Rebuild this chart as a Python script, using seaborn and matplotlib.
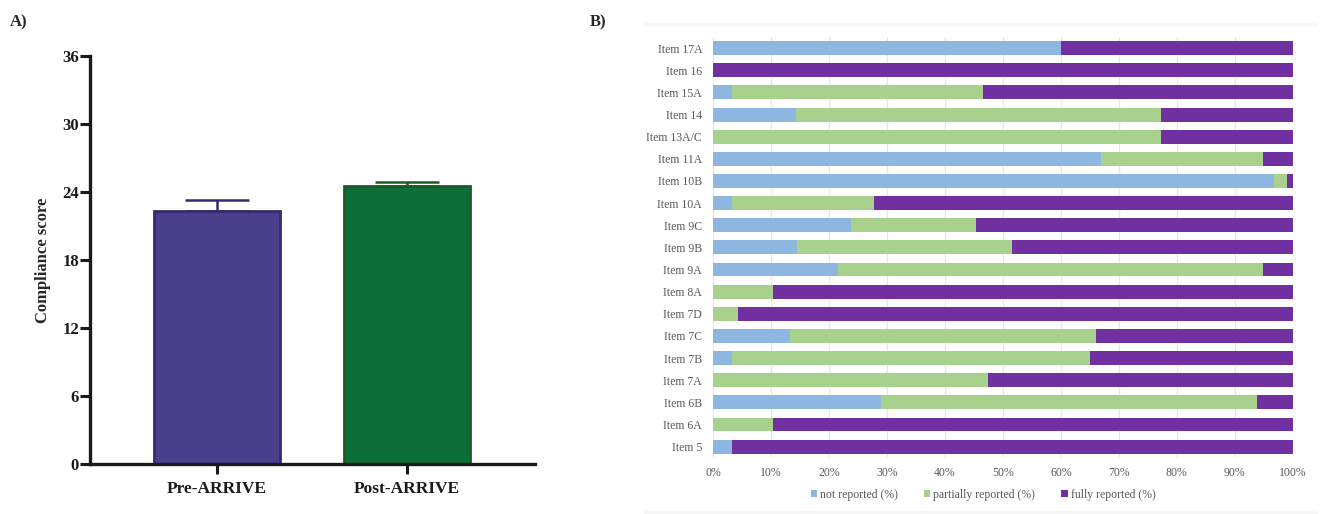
import numpy as np
import pandas as pd
import matplotlib
matplotlib.use("Agg")
import matplotlib.pyplot as plt
from matplotlib.lines import Line2D
from matplotlib.patches import Patch
import seaborn as sns

# ---- Panel A: mean compliance score with SEM ----
groups = ["Pre-ARRIVE", "Post-ARRIVE"]
mean_score = [22.3, 24.5]
sem_score = [1.0, 0.4]
group_fill = ["#4A3F8B", "#0E6E3A"]
group_edge = ["#352A72", "#1F5A26"]
score_ticks = [0, 6, 12, 18, 24, 30, 36]

# ---- Panel B: reporting of individual checklist items (%) ----
items = ["Item 17A", "Item 16", "Item 15A", "Item 14", "Item 13A/C", "Item 11A",
         "Item 10B", "Item 10A", "Item 9C", "Item 9B", "Item 9A", "Item 8A",
         "Item 7D", "Item 7C", "Item 7B", "Item 7A", "Item 6B", "Item 6A", "Item 5"]
not_reported = [60.0, 0.0, 3.2, 14.3, 0.0, 67.0, 96.8, 3.2, 23.8, 14.4, 21.6,
                0.0, 0.0, 13.3, 3.2, 0.0, 28.9, 0.0, 3.2]
partially_reported = [0.0, 0.0, 43.3, 63.0, 77.3, 27.9, 2.2, 24.6, 21.5, 37.1, 73.3,
                      10.3, 4.2, 52.7, 61.8, 47.4, 64.9, 10.3, 0.0]
fully_reported = [40.0, 100.0, 53.5, 22.7, 22.7, 5.1, 1.0, 72.2, 54.7, 48.5, 5.1,
                  89.7, 95.8, 34.0, 35.0, 52.6, 6.2, 89.7, 96.8]
series_names = ["not reported (%)", "partially reported (%)", "fully reported (%)"]
series_colors = ["#8DB7E0", "#A9D18E", "#7030A0"]
pct_ticks = list(range(0, 101, 10))

sns.set_theme(style="white")
plt.rcParams["font.family"] = ["Liberation Serif", "DejaVu Serif"]

W, H = 1321, 514
fig = plt.figure(figsize=(W / 100, H / 100), dpi=100)

# ------------------------------------------------------------------ panel A
axA = fig.add_axes([90 / W, 1 - 464 / H, (535 - 90) / W, (464 - 56) / H])
dfA = pd.DataFrame({"group": groups, "score": mean_score})
sns.barplot(data=dfA, x="group", y="score", hue="group", palette=group_fill,
            legend=False, width=0.663, ax=axA, errorbar=None, saturation=1)
for patch, ec in zip(axA.patches, group_edge):
    patch.set_edgecolor(ec)
    patch.set_linewidth(2.0)
for i, (m, s, ec) in enumerate(zip(mean_score, sem_score, group_edge)):
    axA.errorbar(i, m, yerr=[[0], [s]], fmt="none", ecolor=ec,
                 elinewidth=1.8, capsize=23, capthick=1.8, zorder=1)
axA.set_xlim(-0.668, 1.674)
axA.set_ylim(0, 36)
axA.set_yticks(score_ticks)
axA.set_xlabel("")
axA.set_ylabel("Compliance score", fontsize=12, fontweight="bold", labelpad=8)
for side in ("top", "right"):
    axA.spines[side].set_visible(False)
for side in ("left", "bottom"):
    axA.spines[side].set_linewidth(2.4)
    axA.spines[side].set_color("#1a1a1a")
axA.tick_params(axis="both", direction="out", length=7, width=2.2,
                color="#1a1a1a", left=True, bottom=True)
axA.tick_params(axis="y", labelsize=12, pad=1)
axA.tick_params(axis="x", labelsize=12.5, pad=5)
for lab in axA.get_xticklabels() + axA.get_yticklabels():
    lab.set_fontweight("bold")
    lab.set_color("#1a1a1a")

fig.text(10 / W, 1 - 22 / H, "A)", fontsize=12, fontweight="bold",
         va="center", ha="left")

# ------------------------------------------------------------------ panel B
axB = fig.add_axes([713.3 / W, 1 - 457.7 / H, (1292.7 - 713.3) / W,
                    (457.7 - 36.6) / H])
dfB = pd.DataFrame({"item": items,
                    "not": not_reported,
                    "partial": partially_reported,
                    "full": fully_reported})
dfB["cum_partial"] = dfB["not"] + dfB["partial"]
dfB["cum_full"] = dfB["cum_partial"] + dfB["full"]

# stacked bars: draw cumulative totals from the back to the front
for col, color in zip(["cum_full", "cum_partial", "not"], series_colors[::-1]):
    sns.barplot(data=dfB, x=col, y="item", color=color, orient="h",
                width=0.63, ax=axB, errorbar=None, saturation=1,
                linewidth=0)
axB.set_xlim(0, 100)
axB.set_ylim(len(items) - 0.5, -0.52)
axB.set_xticks(pct_ticks)
axB.set_xticklabels([f"{t}%" for t in pct_ticks])
axB.set_xlabel("")
axB.set_ylabel("")
axB.set_axisbelow(True)
axB.grid(axis="x", color="#E6E6E6", linewidth=0.9)
axB.grid(axis="y", visible=False)
for side in axB.spines:
    axB.spines[side].set_visible(False)
axB.tick_params(axis="both", length=0, labelsize=8.5, labelcolor="#595959")
axB.tick_params(axis="y", pad=8)
axB.tick_params(axis="x", pad=7)

handles = [Patch(facecolor=c, edgecolor="none") for c in series_colors]
fig.legend(handles, series_names, loc="center", ncol=3, frameon=False,
           bbox_to_anchor=(983 / W, 1 - 495 / H), fontsize=8.5,
           handlelength=0.55, handleheight=0.55, handletextpad=0.25,
           columnspacing=2.2, labelcolor="#595959")

fig.text(590 / W, 1 - 22 / H, "B)", fontsize=12, fontweight="bold",
         va="center", ha="left")

# faint frame lines around panel B
for yy in (24, 512):
    fig.add_artist(Line2D([645 / W, 1316 / W], [1 - yy / H, 1 - yy / H],
                          color="#F6F6F6", linewidth=2.5,
                          transform=fig.transFigure))

fig.savefig("out.png", dpi=100)
